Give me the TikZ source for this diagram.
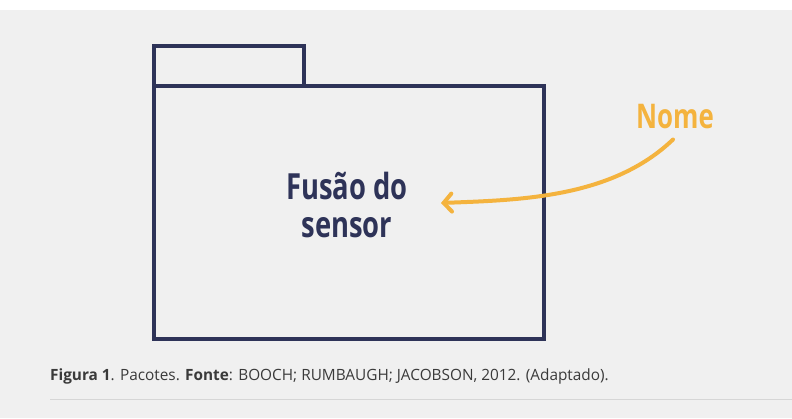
\documentclass[tikz,border=0pt]{standalone}
\usepackage{fontspec}
\setmainfont{Open Sans}
\newfontfamily\condbold[FakeStretch=0.76]{Open Sans Bold}
\newfontfamily\capfont[FakeStretch=0.99]{Open Sans}
\newfontfamily\capbold[FakeStretch=0.99]{Open Sans Bold}
\usetikzlibrary{arrows.meta}
\definecolor{navy}{HTML}{2E3358}
\definecolor{amber}{HTML}{F4B33E}
\definecolor{bggrey}{HTML}{F0F0F0}
\definecolor{captxt}{HTML}{3A3A3A}
\definecolor{rulegrey}{HTML}{D6D6D6}
\tikzset{
  pkg/.style={draw=navy, line width=4pt, fill=none, inner sep=0pt, anchor=north west},
  title/.style={text=navy, font=\condbold\fontsize{36}{38}\selectfont, align=center, inner sep=0pt},
  namelbl/.style={text=amber, font=\condbold\fontsize{34}{36}\selectfont, inner sep=0pt},
  pointer/.style={draw=amber, line width=4pt, line cap=round, -{Straight Barb[length=8pt,width=18pt,line width=4pt,line cap=round]}},
  caption/.style={text=captxt, font=\capfont\fontsize{15.5}{18}\selectfont, anchor=base west, inner sep=0pt}
}
\begin{document}
\begin{tikzpicture}[x=1pt,y=-1pt]
\useasboundingbox (0,0) rectangle (792,418);
\fill[white] (0,0) rectangle (792,10);
\fill[bggrey] (0,10) rectangle (792,418);
\node[pkg, minimum width=150pt, minimum height=40pt] (tab) at (152,44) {};
\node[pkg, minimum width=390pt, minimum height=253pt] (body) at (152,84) {};
\node[title] (name) at (347,205) {Fusão do\\sensor};
\node[namelbl] (nome) at (675,117) {Nome};
\coordinate (tip) at (441,203);
\draw[pointer] ([xshift=-2pt,yshift=-10pt]nome.south) .. controls (612,198) and (520,200) .. (tip);
\node[caption] (cap) at (50,380) {{\capbold Figura 1}. Pacotes. {\capbold Fonte}: BOOCH; RUMBAUGH; JACOBSON, 2012. (Adaptado).};
\coordinate (rl) at (50,399.5);
\coordinate (rr) at (792,399.5);
\draw[rulegrey, line width=1pt] (rl) -- (rr);
\end{tikzpicture}
\end{document}
